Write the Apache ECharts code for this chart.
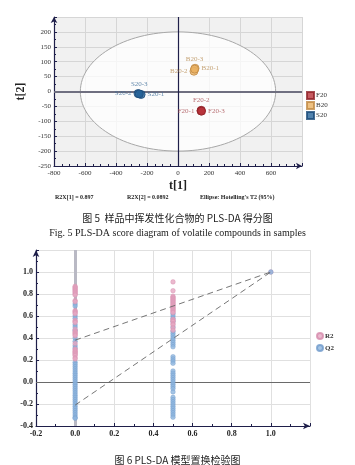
<!DOCTYPE html>
<html><head><meta charset="utf-8">
<script src="https://cdn.jsdelivr.net/npm/echarts@6/dist/echarts.min.js"></script>
<style>html,body{margin:0;padding:0;background:#fff}#c{width:355px;height:465px}</style>
</head><body><div id="c"></div>
<script>
// ---- Figure 5: PLS-DA score plot ----
const scoreGroups = ['F20', 'B20', 'S20'];
const f20Names = ['F20-1', 'F20-2', 'F20-3'];
const f20X = [148, 150, 152];
const f20Y = [-65, -63, -66];
const b20Names = ['B20-1', 'B20-2', 'B20-3'];
const b20X = [110, 103, 107];
const b20Y = [78, 68, 75];
const s20Names = ['S20-1', 'S20-2', 'S20-3'];
const s20X = [-238, -258, -250];
const s20Y = [-10, -7, -8];
const ellipseCenter = [0, 0];
const ellipseRadii = [630, 200];
const statTexts = ['R2X[1] = 0.897', 'R2X[2] = 0.0892', "Ellipse: Hotelling's T2 (95%)"];

// ---- Figure 6: permutation test ----
const r2At0 = [0.87,0.86,0.85,0.84,0.83,0.82,0.81,0.80,0.79,0.74,0.73,0.65,0.64,0.63,0.62,0.56,0.55,0.54,0.48,0.46,0.45,0.44,0.43,0.42,0.35,0.30,0.29,0.28,0.27,0.26,0.25,0.24,0.22,0.21];
const q2At0 = [0.71,0.69,0.60,0.58,0.52,0.50,0.47,0.40,0.37,0.33,0.31,0.18,0.16,0.14,0.12,0.10,0.08,0.06,0.04,0.02,0.00,-0.02,-0.04,-0.06,-0.08,-0.10,-0.12,-0.14,-0.16,-0.18,-0.20,-0.22,-0.24,-0.26,-0.28,-0.30,-0.32,-0.33];
const r2AtHalf = [0.91,0.83,0.78,0.77,0.76,0.75,0.74,0.73,0.72,0.71,0.70,0.69,0.68,0.67,0.66,0.65,0.64,0.63,0.57,0.56,0.55,0.53,0.52,0.49,0.47];
const q2AtHalf = [0.62,0.60,0.58,0.55,0.50,0.46,0.44,0.42,0.40,0.38,0.36,0.34,0.32,0.23,0.21,0.19,0.17,0.10,0.08,0.06,0.04,0.02,0.00,-0.02,-0.04,-0.06,-0.09,-0.14,-0.16,-0.18,-0.20,-0.22,-0.24,-0.26,-0.28,-0.30,-0.32];
const permX = [0, 0.5, 1];
const r2Original = 1.0;
const q2Original = 1.0;
const r2Intercept = 0.38;
const q2Intercept = -0.21;

const serif = 'Liberation Serif';

function pts(xs, ys, names, positions) {
  return xs.map((x, i) => ({ name: names[i], value: [x, ys[i]], label: { position: positions[i] } }));
}
const f20Data = pts(f20X, f20Y, f20Names, ['left', 'top', 'right']);
const b20Data = pts(b20X, b20Y, b20Names, ['right', 'left', 'top']);
const s20Data = pts(s20X, s20Y, s20Names, ['right', 'left', 'top']);

function grpSeries(name, data, fill, border, labelColor) {
  return {
    type: 'scatter', name, xAxisIndex: 0, yAxisIndex: 0, z: 5,
    data, symbolSize: 8,
    itemStyle: { color: fill, borderColor: border, borderWidth: 1 },
    label: { show: true, formatter: '{b}', fontFamily: serif, fontSize: 7, color: labelColor, distance: 2 },
    emphasis: { disabled: true }
  };
}

const permPoint = (x) => (v) => [x, v];
const r2Data = r2At0.map(permPoint(permX[0])).concat(r2AtHalf.map(permPoint(permX[1])), [[permX[2], r2Original]]);
const q2Data = q2At0.map(permPoint(permX[0])).concat(q2AtHalf.map(permPoint(permX[1])));
const q2OrigData = [[permX[2], q2Original]];

const axisDark = '#1f1f4a';

const option = {
  animation: false,
  backgroundColor: '#fff',
  title: [
    { text: statTexts[0], left: 50, top: 189, textStyle: { fontFamily: serif, fontSize: 6, fontWeight: 'bold', color: '#222' } },
    { text: statTexts[1], left: 122, top: 189, textStyle: { fontFamily: serif, fontSize: 6, fontWeight: 'bold', color: '#222' } },
    { text: statTexts[2], left: 195, top: 189, textStyle: { fontFamily: serif, fontSize: 6, fontWeight: 'bold', color: '#222' } },
    { text: '图 5  样品中挥发性化合物的 PLS-DA 得分图', left: 'center', top: 208, textStyle: { fontFamily: 'Noto Sans CJK SC', fontSize: 10, fontWeight: 'normal', color: '#222' } },
    { text: 'Fig. 5 PLS-DA score diagram of volatile compounds in samples', left: 'center', top: 223, textStyle: { fontFamily: serif, fontSize: 10, fontWeight: 'normal', color: '#222' } },
    { text: '图 6 PLS-DA 模型置换检验图', left: 'center', top: 450, textStyle: { fontFamily: 'Noto Sans CJK SC', fontSize: 10, fontWeight: 'normal', color: '#222' } }
  ],
  legend: [
    { data: scoreGroups, orient: 'vertical', left: 306, top: 91, icon: 'rect', itemWidth: 7, itemHeight: 7, itemGap: 1,
      padding: 0,
      textStyle: { fontFamily: serif, fontSize: 7, lineHeight: 8, color: '#333', padding: [0, 0, 0, -3] } },
    { data: ['R2', 'Q2'], orient: 'vertical', left: 316, top: 332, icon: 'circle', itemWidth: 6, itemHeight: 6, itemGap: 4,
      padding: 0,
      textStyle: { fontFamily: serif, fontSize: 7, lineHeight: 8, fontWeight: 'bold', color: '#333', padding: [0, 0, 0, -3] } }
  ],
  grid: [
    { left: 54, right: 53, top: 17, bottom: 299, show: true, backgroundColor: '#f1f1f1', borderWidth: 0 },
    { left: 36, right: 45, top: 250, bottom: 39 }
  ],
  xAxis: [
    { gridIndex: 0, type: 'value', min: -800, max: 800, interval: 200,
      axisLine: { onZero: false, lineStyle: { color: axisDark, width: 1.2 }, symbol: ['none', 'arrow'], symbolSize: [5, 6] },
      axisTick: { inside: true, length: 3, lineStyle: { color: axisDark } },
      minorTick: { show: true, splitNumber: 4, length: 2, lineStyle: { color: axisDark } },
      splitLine: { show: true, lineStyle: { color: '#d6d6d6', width: 1 } },
      axisLabel: { showMaxLabel: false, fontFamily: serif, fontSize: 7, color: '#333', margin: 4 },
      name: 't[1]', nameLocation: 'middle', nameGap: 14,
      nameTextStyle: { fontFamily: serif, fontSize: 12, fontWeight: 'bold', color: '#222' } },
    { gridIndex: 1, type: 'value', min: -0.2, max: 1.2, interval: 0.2,
      axisLine: { onZero: false, lineStyle: { color: axisDark, width: 1.2 }, symbol: ['none', 'arrow'], symbolSize: [5, 7] },
      axisTick: { inside: true, length: 3, lineStyle: { color: axisDark } },
      minorTick: { show: true, splitNumber: 2, length: 2, lineStyle: { color: axisDark } },
      splitLine: { show: true, lineStyle: { color: '#e0e0e0', width: 1 } },
      axisLabel: { showMaxLabel: false, fontFamily: serif, fontSize: 8, fontWeight: 'bold', color: '#222', margin: 4,
        formatter: (v) => v.toFixed(1) } }
  ],
  yAxis: [
    { gridIndex: 0, type: 'value', min: -250, max: 250, interval: 50,
      axisLine: { onZero: false, lineStyle: { color: axisDark, width: 1.2 }, symbol: ['none', 'arrow'], symbolSize: [5, 6] },
      axisTick: { inside: true, length: 3, lineStyle: { color: axisDark } },
      minorTick: { show: true, splitNumber: 2, length: 2, lineStyle: { color: axisDark } },
      splitLine: { show: true, lineStyle: { color: '#d6d6d6', width: 1 } },
      axisLabel: { showMaxLabel: false, fontFamily: serif, fontSize: 7, color: '#333', margin: 3 },
      name: 't[2]', nameLocation: 'middle', nameGap: 22, nameRotate: 90,
      nameTextStyle: { fontFamily: serif, fontSize: 12, fontWeight: 'bold', color: '#222' } },
    { gridIndex: 1, type: 'value', min: -0.4, max: 1.2, interval: 0.2,
      axisLine: { onZero: false, lineStyle: { color: axisDark, width: 1.2 }, symbol: ['none', 'arrow'], symbolSize: [5, 7] },
      axisTick: { inside: true, length: 3, lineStyle: { color: axisDark } },
      minorTick: { show: true, splitNumber: 2, length: 2, lineStyle: { color: axisDark } },
      splitLine: { show: true, lineStyle: { color: '#e0e0e0', width: 1 } },
      axisLabel: { showMaxLabel: false, fontFamily: serif, fontSize: 8, fontWeight: 'bold', color: '#222', margin: 3,
        formatter: (v) => v.toFixed(1) } }
  ],
  series: [
    { type: 'custom', xAxisIndex: 0, yAxisIndex: 0, z: 1, silent: true,
      data: [[ellipseCenter[0], ellipseCenter[1], ellipseRadii[0], ellipseRadii[1]]],
      renderItem: function (params, api) {
        const c = api.coord([api.value(0), api.value(1)]);
        const s = api.size([api.value(2), api.value(3)]);
        return { type: 'ellipse', shape: { cx: c[0], cy: c[1], rx: s[0], ry: s[1] },
          style: { fill: 'rgba(255,255,255,0.75)', stroke: '#a8a8a8', lineWidth: 1 } };
      } },
    { type: 'scatter', xAxisIndex: 0, yAxisIndex: 0, z: 2, data: [], silent: true,
      markLine: { silent: true, z: 2, symbol: 'none', label: { show: false }, animation: false,
        data: [
          { yAxis: 0, lineStyle: { color: '#6f6f80', width: 2, type: 'solid' } },
          { xAxis: 0, lineStyle: { color: '#1f1f4a', width: 1.2, type: 'solid' } }
        ] } },
    grpSeries('F20', f20Data, '#b8323a', '#8e2228', '#a84b50'),
    grpSeries('B20', b20Data, '#eab163', '#c08a45', '#b88d55'),
    grpSeries('S20', s20Data, '#256398', '#1a4a78', '#3d6d99'),

    { type: 'scatter', xAxisIndex: 1, yAxisIndex: 1, z: 1, data: [], silent: true,
      markLine: { silent: true, z: 1, symbol: 'none', label: { show: false }, animation: false,
        data: [
          { xAxis: 0, lineStyle: { color: '#b9b9c4', width: 3, type: 'solid' } },
          { yAxis: 0, lineStyle: { color: '#6a6a6a', width: 1, type: 'solid' } }
        ] } },
    { type: 'scatter', name: 'Q2', xAxisIndex: 1, yAxisIndex: 1, z: 3, data: q2Data, symbolSize: 4.6,
      itemStyle: { color: '#8db5de', borderColor: '#6f9acb', borderWidth: 0.5 }, emphasis: { disabled: true } },
    { type: 'scatter', name: 'R2', xAxisIndex: 1, yAxisIndex: 1, z: 4, data: r2Data, symbolSize: 4.6,
      itemStyle: { color: '#e6a7c2', borderColor: '#d58aab', borderWidth: 0.5 }, emphasis: { disabled: true } },
    { type: 'scatter', name: 'Q2', xAxisIndex: 1, yAxisIndex: 1, z: 4, data: q2OrigData, symbolSize: 4.6,
      itemStyle: { color: '#8db5de', borderColor: '#6f9acb', borderWidth: 0.5 }, emphasis: { disabled: true } },
    { type: 'line', xAxisIndex: 1, yAxisIndex: 1, z: 5, symbol: 'none', silent: true,
      data: [[permX[0], r2Intercept], [permX[2], r2Original]],
      lineStyle: { color: '#666', width: 0.9, type: [6, 4] } },
    { type: 'line', xAxisIndex: 1, yAxisIndex: 1, z: 5, symbol: 'none', silent: true,
      data: [[permX[0], q2Intercept], [permX[2], q2Original]],
      lineStyle: { color: '#666', width: 0.9, type: [6, 4] } }
  ]
};
const chart = echarts.init(document.getElementById('c'), null, { renderer: 'canvas' });
chart.setOption(option);
</script>
</body></html>
